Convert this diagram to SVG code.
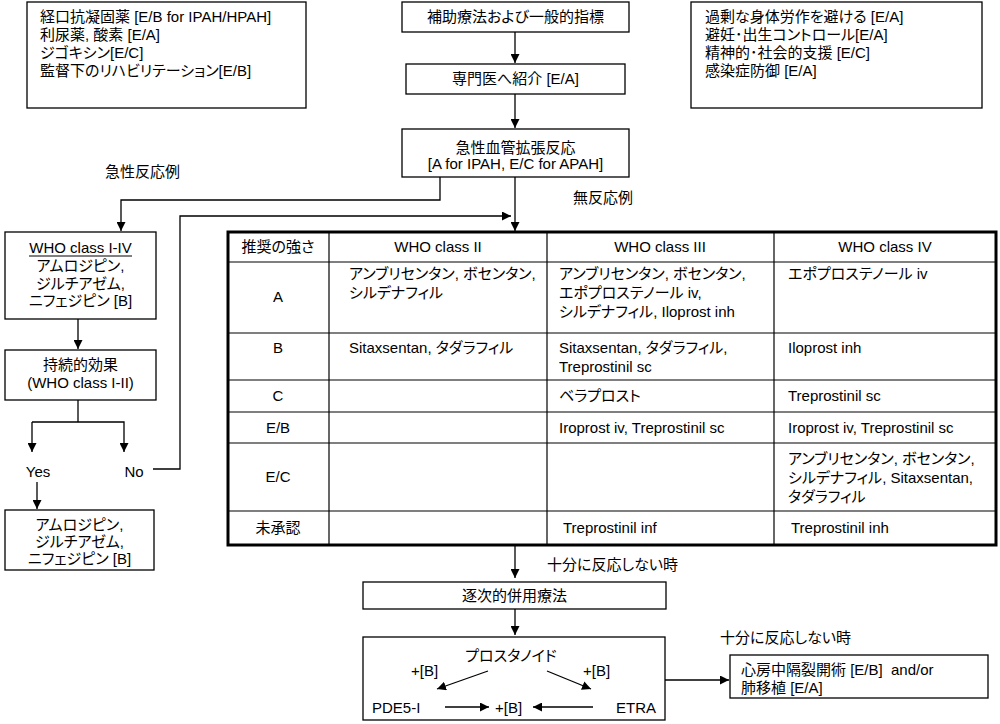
<svg xmlns="http://www.w3.org/2000/svg" width="1000" height="724" viewBox="0 0 1000 724">
<style>
text{font-family:"Liberation Sans","Noto Sans CJK JP",sans-serif;font-size:15px;fill:#000;font-feature-settings:"palt" 1;white-space:pre}
.c{text-anchor:middle}
.box{fill:#fff;stroke:#000;stroke-width:1.3}
.ln{fill:none;stroke:#000;stroke-width:1.3}
.grid{stroke:#000;stroke-width:1.2}
</style>
<defs>
<marker id="ah" viewBox="0 0 10 10" refX="10" refY="5" markerWidth="9" markerHeight="9" markerUnits="userSpaceOnUse" orient="auto">
<path d="M0,0 L10,5 L0,10 z" fill="#000"/>
</marker>
</defs>
<rect width="1000" height="724" fill="#fff"/>

<g id="n-supportive-left">
<rect class="box" x="27" y="2" width="279" height="106"/>
<text x="40" y="22">経口抗凝固薬 [E/B for IPAH/HPAH]</text>
<text x="40" y="40">利尿薬, 酸素 [E/A]</text>
<text x="40" y="58">ジゴキシン[E/C]</text>
<text x="40" y="76">監督下のリハビリテーション[E/B]</text>
</g>

<g id="n-general">
<rect class="box" x="402" y="2" width="227" height="30"/>
<text class="c" x="515.5" y="22">補助療法および一般的指標</text>
</g>

<g id="n-referral">
<rect class="box" x="406" y="64" width="219" height="30"/>
<text class="c" x="515.5" y="84">専門医へ紹介 [E/A]</text>
</g>

<g id="n-vasoreactivity">
<rect class="box" x="402" y="129" width="227" height="48"/>
<text class="c" x="515.5" y="153">急性血管拡張反応</text>
<text class="c" x="515.5" y="169">[A for IPAH, E/C for APAH]</text>
</g>

<g id="n-supportive-right">
<rect class="box" x="691" y="2" width="291" height="106"/>
<text x="705" y="22">過剰な身体労作を避ける [E/A]</text>
<text x="705" y="40">避妊･出生コントロール[E/A]</text>
<text x="705" y="58">精神的･社会的支援 [E/C]</text>
<text x="705" y="76">感染症防御 [E/A]</text>
</g>

<g id="labels">
<text x="105" y="177">急性反応例</text>
<text x="573" y="203">無反応例</text>
<text class="c" x="38" y="477">Yes</text>
<text class="c" x="134" y="477">No</text>
<text x="547" y="570">十分に反応しない時</text>
<text x="720" y="643">十分に反応しない時</text>
</g>

<g id="n-ccb">
<rect class="box" x="5" y="232" width="151" height="87"/>
<text class="c" x="80.5" y="253">WHO class I-IV</text>
<line x1="29" y1="256" x2="132" y2="256" stroke="#000" stroke-width="1"/>
<text class="c" x="80.5" y="271">アムロジピン,</text>
<text class="c" x="80.5" y="289">ジルチアゼム,</text>
<text class="c" x="80.5" y="306">ニフェジピン [B]</text>
</g>

<g id="n-sustained">
<rect class="box" x="5" y="350" width="151" height="50"/>
<text class="c" x="80.5" y="370">持続的効果</text>
<text class="c" x="80.5" y="388">(WHO class I-II)</text>
</g>

<g id="n-ccb-continue">
<rect class="box" x="5" y="510" width="149" height="60"/>
<text class="c" x="79.5" y="530">アムロジピン,</text>
<text class="c" x="79.5" y="547">ジルチアゼム,</text>
<text class="c" x="79.5" y="564">ニフェジピン [B]</text>
</g>

<g id="n-table">
<rect x="228" y="232" width="768" height="313" fill="#fff" stroke="#000" stroke-width="3"/>
<line class="grid" x1="228" y1="262" x2="996" y2="262"/>
<line class="grid" x1="228" y1="333" x2="996" y2="333"/>
<line class="grid" x1="228" y1="380" x2="996" y2="380"/>
<line class="grid" x1="228" y1="412" x2="996" y2="412"/>
<line class="grid" x1="228" y1="443" x2="996" y2="443"/>
<line class="grid" x1="228" y1="511" x2="996" y2="511"/>
<line class="grid" x1="329" y1="232" x2="329" y2="545"/>
<line class="grid" x1="547" y1="232" x2="547" y2="545"/>
<line class="grid" x1="774" y1="232" x2="774" y2="545"/>
<text class="c" x="278" y="252">推奨の強さ</text>
<text class="c" x="438" y="252">WHO class II</text>
<text class="c" x="660" y="252">WHO class III</text>
<text class="c" x="885" y="252">WHO class IV</text>
<text class="c" x="278" y="302">A</text>
<text x="349" y="279">アンブリセンタン, ボセンタン,</text>
<text x="349" y="298">シルデナフィル</text>
<text x="559" y="279">アンブリセンタン, ボセンタン,</text>
<text x="559" y="298">エポプロステノール iv,</text>
<text x="559" y="317">シルデナフィル, Iloprost inh</text>
<text x="788" y="279">エポプロステノール iv</text>
<text class="c" x="278" y="353">B</text>
<text x="349" y="353">Sitaxsentan, タダラフィル</text>
<text x="559" y="353">Sitaxsentan, タダラフィル,</text>
<text x="559" y="372">Treprostinil sc</text>
<text x="788" y="353">Iloprost inh</text>
<text class="c" x="278" y="401">C</text>
<text x="559" y="401">ベラプロスト</text>
<text x="788" y="401">Treprostinil sc</text>
<text class="c" x="278" y="433">E/B</text>
<text x="559" y="433">Iroprost iv, Treprostinil sc</text>
<text x="788" y="433">Iroprost iv, Treprostinil sc</text>
<text class="c" x="278" y="482">E/C</text>
<text x="788" y="464">アンブリセンタン, ボセンタン,</text>
<text x="788" y="483">シルデナフィル, Sitaxsentan,</text>
<text x="788" y="502">タダラフィル</text>
<text class="c" x="278" y="533">未承認</text>
<text x="563" y="533">Treprostinil inf</text>
<text x="791" y="533">Treprostinil inh</text>
</g>

<g id="n-sequential">
<rect class="box" x="363" y="582" width="303" height="27"/>
<text class="c" x="514.5" y="601">逐次的併用療法</text>
</g>

<g id="n-combination">
<rect class="box" x="363" y="637" width="302" height="83"/>
<text class="c" x="511" y="661">プロスタノイド</text>
<text x="411" y="676">+[B]</text>
<text x="583" y="676">+[B]</text>
<text x="372" y="713">PDE5-I</text>
<text x="495" y="713">+[B]</text>
<text x="616" y="713">ETRA</text>
</g>

<g id="n-surgery">
<rect class="box" x="730" y="655" width="258" height="43"/>
<text x="741" y="675">心房中隔裂開術 [E/B]  and/or</text>
<text x="741" y="693">肺移植 [E/A]</text>
</g>

<g id="connectors">
<line class="ln" x1="515" y1="32" x2="515" y2="63" marker-end="url(#ah)"/>
<line class="ln" x1="515" y1="94" x2="515" y2="128" marker-end="url(#ah)"/>
<polyline class="ln" points="440,177 440,200 121,200 121,231" marker-end="url(#ah)"/>
<line class="ln" x1="515" y1="177" x2="515" y2="231" marker-end="url(#ah)"/>
<polyline class="ln" points="153,469 180,469 180,216 511,216" marker-end="url(#ah)"/>
<line class="ln" x1="78" y1="319" x2="78" y2="349" marker-end="url(#ah)"/>
<polyline class="ln" points="78,400 78,422"/>
<polyline class="ln" points="32,422 124,422 124,452" marker-end="url(#ah)"/>
<line class="ln" x1="32" y1="422" x2="32" y2="452" marker-end="url(#ah)"/>
<line class="ln" x1="37" y1="482" x2="37" y2="509" marker-end="url(#ah)"/>
<line class="ln" x1="515" y1="546" x2="515" y2="578" marker-end="url(#ah)"/>
<line class="ln" x1="515" y1="609" x2="515" y2="635" marker-end="url(#ah)"/>
<line class="ln" x1="665" y1="680" x2="729" y2="680" marker-end="url(#ah)"/>
<line class="ln" x1="488" y1="671" x2="437" y2="689" marker-end="url(#ah)"/>
<line class="ln" x1="547" y1="671" x2="591" y2="689" marker-end="url(#ah)"/>
<line class="ln" x1="445" y1="707" x2="489" y2="707" marker-end="url(#ah)"/>
<line class="ln" x1="593" y1="707" x2="533" y2="707" marker-end="url(#ah)"/>
</g>
</svg>
